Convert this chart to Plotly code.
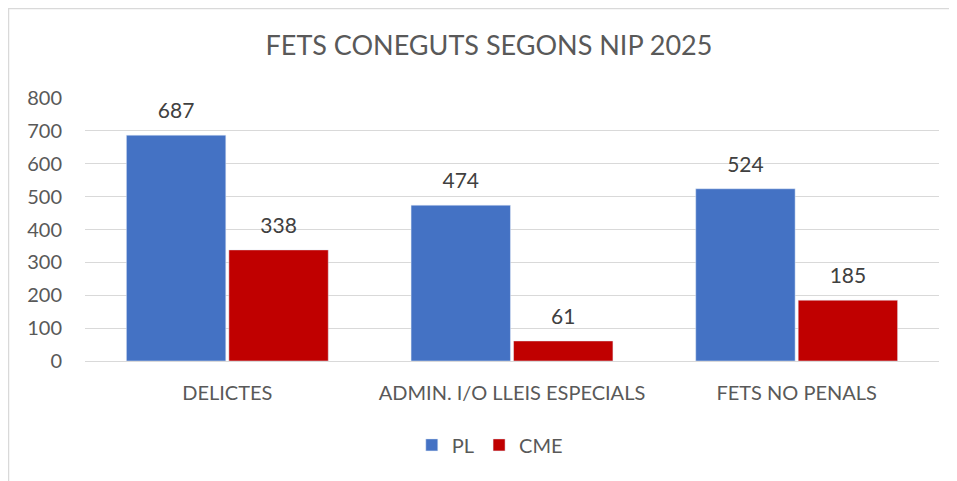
import plotly.graph_objects as go

categories = ["DELICTES", "ADMIN. I/O LLEIS ESPECIALS", "FETS NO PENALS"]
pl_values = [687, 474, 524]
cme_values = [338, 61, 185]
y_ticks = [0, 100, 200, 300, 400, 500, 600, 700, 800]

FONT = "Lato, 'Open Sans', sans-serif"
GREY = "#595959"
LABEL = "#404040"

fig = go.Figure()
fig.add_trace(go.Bar(name="PL", x=categories, y=pl_values, marker_color="#4472C4",
                     offsetgroup="pl"))
fig.add_trace(go.Bar(name="CME", x=categories, y=cme_values, marker_color="#C00000",
                     offsetgroup="cme"))
# data labels above bars
for vals, grp in [(pl_values, "pl"), (cme_values, "cme")]:
    fig.add_trace(go.Scatter(
        x=categories, y=vals, text=[str(v) for v in vals], mode="markers+text",
        textposition="top center", offsetgroup=grp, showlegend=False,
        hoverinfo="skip", cliponaxis=False,
        marker=dict(size=17, color="rgba(0,0,0,0)"),
        textfont=dict(size=21, color=LABEL, family=FONT),
    ))

fig.update_layout(
    width=957, height=481,
    margin=dict(l=77, r=26, t=90, b=128),
    paper_bgcolor="white", plot_bgcolor="white",
    barmode="group", bargap=0.28, bargroupgap=0.03,
    scattermode="group", scattergap=0.28,
    font=dict(family=FONT, color=GREY, size=20),
    title=dict(text="FETS CONEGUTS SEGONS NIP 2025", x=0.5026, xanchor="center",
               y=0.921, yanchor="middle", font=dict(size=27, color=GREY, family=FONT)),
    legend=dict(orientation="h", x=0.474, xanchor="center", y=-0.319, yanchor="middle",
                font=dict(size=20, color=GREY, family=FONT), itemwidth=30),
    shapes=[dict(type="rect", xref="paper", yref="paper", x0=-0.0896, x1=1.2,
                 y0=-0.6, y1=1.340, line=dict(color="#d9d9d9", width=1.5),
                 fillcolor="rgba(0,0,0,0)", layer="below")],
)
fig.update_yaxes(range=[0, 800], tickvals=y_ticks, showgrid=True, gridcolor="#d9d9d9",
                 gridwidth=1, zeroline=True, zerolinecolor="#d9d9d9", zerolinewidth=1,
                 showline=False, ticks="", ticklabelstandoff=22,
                 tickfont=dict(size=20, color=GREY, family=FONT))
fig.update_xaxes(showline=False, ticks="", ticklabelstandoff=18,
                 tickfont=dict(size=20, color=GREY, family=FONT))

fig.write_html("out.html")
